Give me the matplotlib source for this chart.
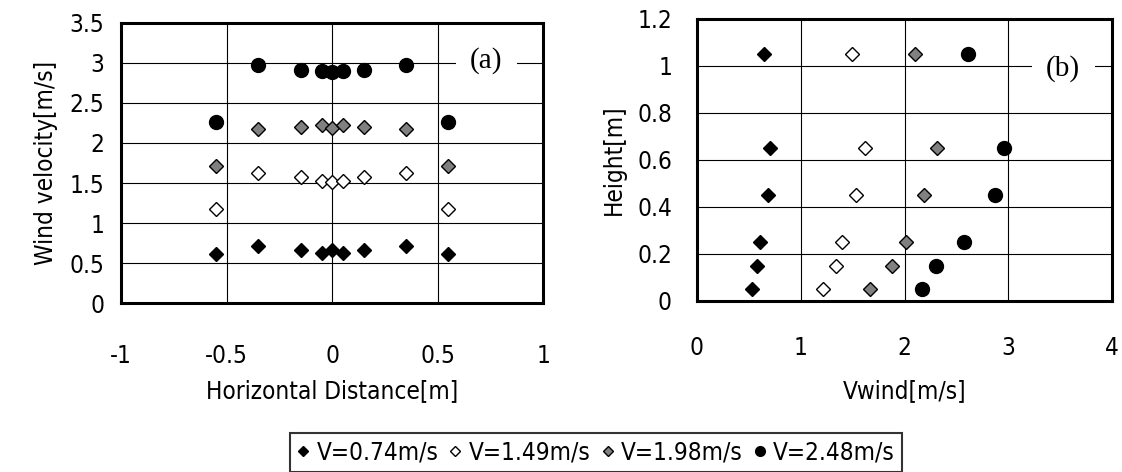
import matplotlib
matplotlib.use("Agg")
import matplotlib.pyplot as plt

plt.rcParams['font.family'] = ['DejaVu Sans']
plt.rcParams['font.stretch'] = 'condensed'

# panel (a): wind velocity across the horizontal distance
dist = [-0.55, -0.35, -0.15, -0.05, 0.0, 0.05, 0.15, 0.35, 0.55]
a_074 = [0.62, 0.72, 0.67, 0.63, 0.67, 0.63, 0.67, 0.72, 0.62]
a_149 = [1.18, 1.62, 1.57, 1.53, 1.51, 1.53, 1.57, 1.62, 1.18]
a_198 = [1.71, 2.18, 2.20, 2.22, 2.19, 2.22, 2.20, 2.18, 1.71]
a_248 = [2.26, 2.97, 2.91, 2.90, 2.88, 2.90, 2.91, 2.97, 2.26]

# panel (b): wind velocity against height
height = [0.05, 0.15, 0.25, 0.45, 0.65, 1.05]
b_074 = [0.53, 0.58, 0.61, 0.68, 0.70, 0.65]
b_149 = [1.21, 1.34, 1.40, 1.53, 1.62, 1.49]
b_198 = [1.67, 1.88, 2.01, 2.19, 2.31, 2.10]
b_248 = [2.17, 2.30, 2.57, 2.87, 2.96, 2.61]

labels = ["V=0.74m/s", "V=1.49m/s", "V=1.98m/s", "V=2.48m/s"]
styles = [
    dict(marker="D", ms=7.5, mfc="black", mec="black"),
    dict(marker="D", ms=7.5, mfc="white", mec="black"),
    dict(marker="D", ms=7.5, mfc="#808080", mec="black"),
    dict(marker="o", ms=10, mfc="black", mec="black"),
]

FS = 17.5

fig = plt.figure(figsize=(11.22, 4.72), dpi=100)
ax1 = fig.add_axes([0.1078, 0.3574, 0.3766, 0.5945])
ax2 = fig.add_axes([0.6212, 0.3623, 0.3699, 0.5975])


def style_axes(ax, xpad, ypad):
    for s in ax.spines.values():
        s.set_linewidth(2.2)
        s.set_color("black")
    ax.tick_params(length=0, labelsize=FS)
    ax.tick_params(axis="x", pad=xpad)
    ax.tick_params(axis="y", pad=ypad)
    ax.grid(True, color="black", linewidth=0.8)
    ax.set_axisbelow(True)


handles = []
for ys, st, lab in zip([a_074, a_149, a_198, a_248], styles, labels):
    h, = ax1.plot(dist, ys, ls="none", mew=1.0, label=lab, **st)
    handles.append(h)
ax1.set_xlim(-1, 1)
ax1.set_ylim(0, 3.5)
ax1.set_xticks([-1, -0.5, 0, 0.5, 1])
ax1.set_xticklabels(["-1", "-0.5", "0", "0.5", "1"])
ax1.set_yticks([0, 0.5, 1, 1.5, 2, 2.5, 3, 3.5])
ax1.set_yticklabels(["0", "0.5", "1", "1.5", "2", "2.5", "3", "3.5"])
style_axes(ax1, 29, 12)
ax1.set_xlabel("Horizontal Distance[m]", fontsize=FS, labelpad=8)
ax1.set_ylabel("Wind velocity[m/s]", fontsize=FS, labelpad=8)
ax1.text(0.73, 3.03, "(a)", fontsize=21, family="Liberation Serif",
         ha="center", va="center",
         bbox=dict(boxstyle="square,pad=0.5", fc="white", ec="none"))

for xs, st in zip([b_074, b_149, b_198, b_248], styles):
    ax2.plot(xs, height, ls="none", mew=1.0, **st)
ax2.set_xlim(0, 4)
ax2.set_ylim(0, 1.2)
ax2.set_xticks([0, 1, 2, 3, 4])
ax2.set_yticks([0, 0.2, 0.4, 0.6, 0.8, 1, 1.2])
ax2.set_yticklabels(["0", "0.2", "0.4", "0.6", "0.8", "1", "1.2"])
style_axes(ax2, 25, 18)
ax2.set_xlabel("Vwind[m/s]", fontsize=FS, labelpad=14)
ax2.set_ylabel("Height[m]", fontsize=FS, labelpad=8)
ax2.text(3.53, 0.99, "(b)", fontsize=21, family="Liberation Serif",
         ha="center", va="center",
         bbox=dict(boxstyle="square,pad=0.5", fc="white", ec="none"))

leg = fig.legend(handles=handles, labels=labels, ncol=4, loc="upper center",
                 bbox_to_anchor=(596 / 1122, 1 - 433 / 472),
                 bbox_transform=fig.transFigure, fontsize=FS,
                 frameon=True, fancybox=False, borderaxespad=0,
                 handlelength=0.5, handletextpad=0.3, columnspacing=0.45,
                 borderpad=0.3, markerscale=0.7)
leg.get_frame().set_edgecolor("black")
leg.get_frame().set_linewidth(1.5)

fig.savefig("out.png", dpi=100)
